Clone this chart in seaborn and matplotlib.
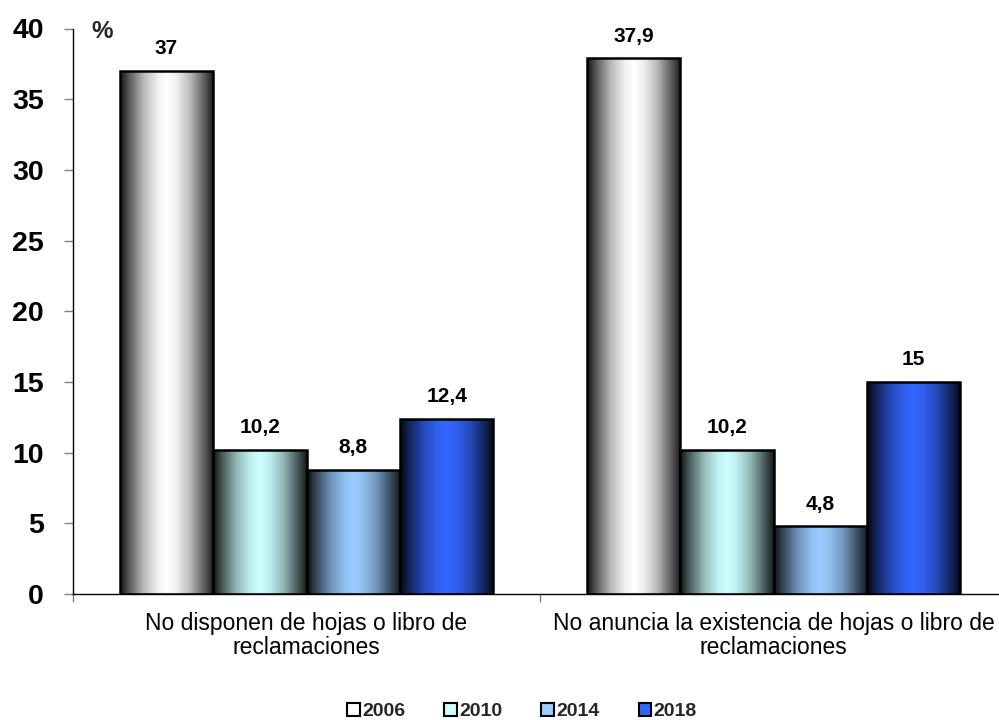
import numpy as np
import pandas as pd
import matplotlib
matplotlib.use("Agg")
import matplotlib.pyplot as plt
import seaborn as sns

# Datos
categorias = [
    "No disponen de hojas o libro de\nreclamaciones",
    "No anuncia la existencia de hojas o libro de\nreclamaciones",
]
anios = ["2006", "2010", "2014", "2018"]
valores_2006 = [37.0, 37.9]
valores_2010 = [10.2, 10.2]
valores_2014 = [8.8, 4.8]
valores_2018 = [12.4, 15.0]
colores = ["#ffffff", "#ccffff", "#99ccff", "#3366ff"]
yticks = [0, 5, 10, 15, 20, 25, 30, 35, 40]

series = [valores_2006, valores_2010, valores_2014, valores_2018]
df = pd.DataFrame(
    [(c, a, v) for a, vals in zip(anios, series) for c, v in zip(categorias, vals)],
    columns=["categoria", "anio", "valor"],
)

sns.set_theme(style="white")
plt.rcParams["font.family"] = ["Liberation Sans", "DejaVu Sans"]

fig = plt.figure(figsize=(9.99, 7.2), dpi=100)
ax = fig.add_axes([73 / 999, 126 / 720, 934 / 999, (594 - 28.5) / 720])

sns.barplot(
    data=df, x="categoria", y="valor", hue="anio", hue_order=anios,
    order=categorias, palette=colores, saturation=1, width=0.8,
    edgecolor="black", linewidth=1.8, legend=False, ax=ax,
)

# Horizontal shading: dark edges, bright centre
stops_t = [0.0, 0.1, 0.25, 0.4, 0.5, 0.6, 0.75, 0.9, 1.0]
stops_f = [0.08, 0.36, 0.72, 0.94, 1.0, 0.94, 0.72, 0.36, 0.1]
t = np.linspace(0, 1, 256)
f = np.interp(t, stops_t, stops_f)

for cont, col in zip(ax.containers, colores):
    base = np.array(matplotlib.colors.to_rgb(col))
    grad = (base[None, :] * f[:, None])[None, :, :]
    for bar in cont:
        x0, y0 = bar.get_x(), bar.get_y()
        w, h = bar.get_width(), bar.get_height()
        im = ax.imshow(grad, extent=[x0, x0 + w, y0, y0 + h], aspect="auto",
                       interpolation="bilinear", zorder=bar.get_zorder() - 0.01)
        im.set_clip_path(bar)
        bar.set_facecolor("none")

# Value labels
for cont, vals in zip(ax.containers, series):
    etiquetas = [f"{v:g}".replace(".", ",") for v in vals]
    ax.bar_label(cont, labels=etiquetas, padding=9, fontsize=15,
                 fontweight="bold", color="black")

ax.set_xlim(-0.5, 1.5)
ax.set_ylim(0, 40)
ax.set_yticks(yticks)
ax.set_yticklabels([str(v) for v in yticks], fontsize=20.5, fontweight="bold")
ax.tick_params(axis="y", which="major", direction="out", length=6.5, width=1,
               color="#808080", pad=14.5, left=True, labelcolor="black")

ax.set_xticks([-0.5, 0.5, 1.5])
ax.set_xticklabels(["", "", ""])
ax.set_xticks([0, 1], minor=True)
ax.set_xticklabels(categorias, minor=True, fontsize=16.5, color="black",
                   linespacing=1.05)
ax.tick_params(axis="x", which="major", direction="out", length=6, width=1,
               color="#808080", bottom=True)
ax.tick_params(axis="x", which="minor", length=0, pad=13)
ax.set_xlabel("")
ax.set_ylabel("")

for s in ["top", "right"]:
    ax.spines[s].set_visible(False)
for s in ["left", "bottom"]:
    ax.spines[s].set_color("black")
    ax.spines[s].set_linewidth(1.0)

fig.text(102 / 999, 1 - 32 / 720, "%", ha="center", va="center",
         fontsize=17.5, fontweight="bold")

handles = [matplotlib.patches.Rectangle((0, 0), 1, 1, facecolor=c,
                                        edgecolor="black", linewidth=1.5)
           for c in colores]
fig.legend(handles, anios, loc="center", bbox_to_anchor=(522 / 999, 8.5 / 720),
           ncol=4, frameon=False, handlelength=0.66, handleheight=0.66,
           handletextpad=0.12, columnspacing=2.0, borderpad=0.0,
           prop={"weight": "bold", "size": 14})

fig.savefig("out.png", dpi=100)
